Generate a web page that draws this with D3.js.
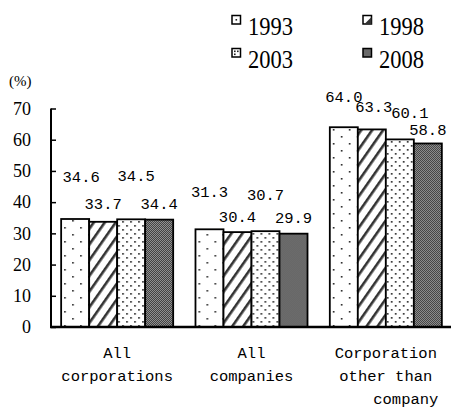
<!DOCTYPE html>
<html>
<head>
<meta charset="utf-8">
<script src="https://cdn.jsdelivr.net/npm/d3@7"></script>
<style>
  body { margin: 0; background: #fff; }
  text { fill: #000; }
</style>
</head>
<body>
<script>
// Data
var categories = ["All corporations", "All companies", "Corporation other than company"];
var categoryLines = [["All", "corporations"], ["All", "companies"], ["Corporation", "other than", "company"]];
var years = ["1993", "1998", "2003", "2008"];
var v1993 = [34.6, 31.3, 64.0];
var v1998 = [33.7, 30.4, 63.3];
var v2003 = [34.5, 30.7, 60.1];
var v2008 = [34.4, 29.9, 58.8];
var yTicks = [0, 10, 20, 30, 40, 50, 60, 70];

var series = [v1993, v1998, v2003, v2008];

// label nudges [dx, dy from bar top] so the labels do not collide
var labelNudge = [
  [[6, -37], [0, -13], [5, -38], [0, -11]],
  [[0, -32], [0, -10], [0, -31], [0, -11]],
  [[0, -25], [2, -17], [10, -21], [0, -8]]
];
// extra x shift for the wrapped category lines
var lineShift = [[0, 0], [0, 0], [0, 0, 20]];

var width = 451, height = 409;

var svg = d3.select("body").append("svg")
  .attr("width", width)
  .attr("height", height);

// patterns
var defs = svg.append("defs");

var p1 = defs.append("pattern").attr("id", "pat1993")
  .attr("patternUnits", "userSpaceOnUse").attr("width", 16).attr("height", 14);
p1.append("rect").attr("width", 16).attr("height", 14).attr("fill", "#fff");
p1.append("rect").attr("x", 3).attr("y", 3).attr("width", 1.6).attr("height", 1.6).attr("fill", "#222");
p1.append("rect").attr("x", 11).attr("y", 10).attr("width", 1.6).attr("height", 1.6).attr("fill", "#222");

var p2 = defs.append("pattern").attr("id", "pat1998")
  .attr("patternUnits", "userSpaceOnUse").attr("width", 9).attr("height", 9)
  .attr("patternTransform", "rotate(35)");
p2.append("rect").attr("width", 9).attr("height", 9).attr("fill", "#fff");
p2.append("rect").attr("x", 0).attr("y", 0).attr("width", 2.6).attr("height", 9).attr("fill", "#333");

var p3 = defs.append("pattern").attr("id", "pat2003")
  .attr("patternUnits", "userSpaceOnUse").attr("width", 8).attr("height", 8);
p3.append("rect").attr("width", 8).attr("height", 8).attr("fill", "#fff");
p3.append("rect").attr("x", 1).attr("y", 1).attr("width", 1.7).attr("height", 1.7).attr("fill", "#333");
p3.append("rect").attr("x", 5).attr("y", 5).attr("width", 1.7).attr("height", 1.7).attr("fill", "#333");

var p4 = defs.append("pattern").attr("id", "pat2008")
  .attr("patternUnits", "userSpaceOnUse").attr("width", 2).attr("height", 2);
p4.append("rect").attr("width", 2).attr("height", 2).attr("fill", "#a0a0a0");
p4.append("rect").attr("width", 1).attr("height", 1).attr("fill", "#333");
p4.append("rect").attr("x", 1).attr("y", 1).attr("width", 1).attr("height", 1).attr("fill", "#333");

var fillFor = function(yr) { return "url(#pat" + yr + ")"; };

// scales
var x0 = d3.scaleBand()
  .domain(categories)
  .range([50, 453])
  .paddingInner(0.166)
  .paddingOuter(0.083);

var x1 = d3.scaleBand()
  .domain(years)
  .range([0, x0.bandwidth()]);

var y = d3.scaleLinear()
  .domain([0, 70])
  .range([327, 108.5]);

// y axis
var yAxis = svg.append("g")
  .attr("transform", "translate(51,0)")
  .call(d3.axisLeft(y).tickValues(yTicks).tickSize(-5).tickPadding(20).tickFormat(d3.format("d")));
yAxis.select(".domain").attr("stroke-width", 2).attr("d", "M0," + y(70) + "V" + y(0));
yAxis.selectAll(".tick line").attr("stroke-width", 1.5);
yAxis.selectAll(".tick text")
  .style("font-family", "'Liberation Serif', serif")
  .style("font-size", "18px");

svg.append("text")
  .attr("x", 9).attr("y", 86)
  .style("font-family", "'Liberation Serif', serif")
  .style("font-size", "15px")
  .text("(%)");

// bars
var groups = svg.selectAll(".grp")
  .data(categories)
  .enter().append("g")
  .attr("class", "grp")
  .attr("transform", function(d) { return "translate(" + x0(d) + ",0)"; });

var cells = function(d, i) {
  return years.map(function(yr, j) { return { yr: yr, v: series[j][i], g: i, j: j }; });
};

groups.selectAll("rect")
  .data(cells)
  .enter().append("rect")
  .attr("x", function(d) { return x1(d.yr); })
  .attr("y", function(d) { return y(d.v); })
  .attr("width", x1.bandwidth())
  .attr("height", function(d) { return y(0) - y(d.v); })
  .attr("fill", function(d) { return fillFor(d.yr); })
  .attr("stroke", "#000")
  .attr("stroke-width", 1.8);

groups.selectAll(".val")
  .data(cells)
  .enter().append("text")
  .attr("class", "val")
  .attr("x", function(d) { return x1(d.yr) + x1.bandwidth() / 2 + labelNudge[d.g][d.j][0]; })
  .attr("y", function(d) { return y(d.v) + labelNudge[d.g][d.j][1]; })
  .attr("text-anchor", "middle")
  .style("font-family", "'Liberation Mono', monospace")
  .style("font-size", "15.5px")
  .text(function(d) { return d.v.toFixed(1); });

// baseline
svg.append("line")
  .attr("x1", 50).attr("x2", 451)
  .attr("y1", y(0)).attr("y2", y(0))
  .attr("stroke", "#000").attr("stroke-width", 2.5);

// category labels
categories.forEach(function(c, i) {
  var t = svg.append("text")
    .attr("text-anchor", "middle")
    .style("font-family", "'Liberation Mono', monospace")
    .style("font-size", "15.5px");
  categoryLines[i].forEach(function(line, k) {
    t.append("tspan")
      .attr("x", x0(c) + x0.bandwidth() / 2 + lineShift[i][k])
      .attr("y", 358 + k * 23)
      .text(line);
  });
});

// legend
var legend = svg.selectAll(".leg")
  .data(years)
  .enter().append("g")
  .attr("class", "leg")
  .attr("transform", function(d, i) { return "translate(" + (232 + (i % 2) * 131) + "," + (15.5 + Math.floor(i / 2) * 33) + ")"; });

legend.append("rect")
  .attr("width", 8.5).attr("height", 8.5)
  .attr("fill", function(d) { return d === "2008" ? fillFor(d) : "#fff"; })
  .attr("stroke", "#000").attr("stroke-width", 1.5);

// small marks inside the legend keys
legend.filter(function(d) { return d === "1993"; }).append("rect")
  .attr("x", 3.5).attr("y", 3.5).attr("width", 1.6).attr("height", 1.6).attr("fill", "#222");
legend.filter(function(d) { return d === "2003"; }).selectAll(".dot")
  .data([[2, 2], [5, 2], [2, 5]])
  .enter().append("rect")
  .attr("x", function(d) { return d[0]; }).attr("y", function(d) { return d[1]; })
  .attr("width", 1.6).attr("height", 1.6).attr("fill", "#222");
legend.filter(function(d) { return d === "1998"; }).append("path")
  .attr("d", "M8.5,1.5L8.5,8.5L1.5,8.5Z").attr("fill", "#333");

legend.append("text")
  .attr("x", 16).attr("y", 19)
  .attr("textLength", 45)
  .attr("lengthAdjust", "spacingAndGlyphs")
  .style("font-family", "'Liberation Serif', serif")
  .style("font-size", "26px")
  .text(function(d) { return d; });
</script>
</body>
</html>
